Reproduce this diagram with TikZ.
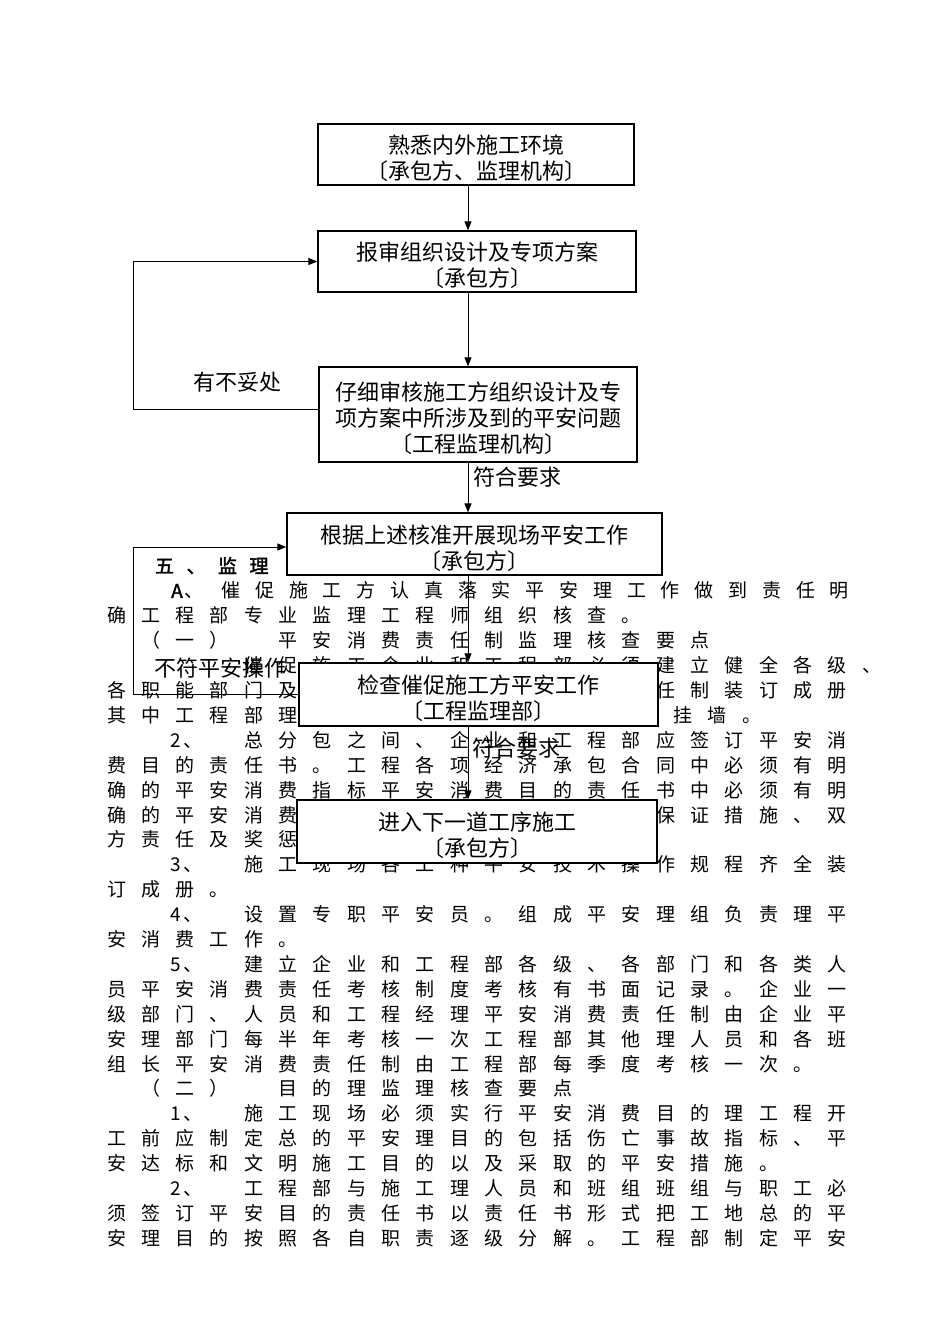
\documentclass[tikz,border=0pt]{standalone}
\usepackage{fontspec}
\setmainfont{Noto Sans CJK SC}[AutoFakeBold=2]
\usetikzlibrary{positioning}
\usetikzlibrary{arrows.meta}

\tikzset{
	stepbox/.style={draw,line width=1.3pt,fill=white,align=center,inner sep=0pt,font=\fontsize{22}{26}\selectfont},
	body/.style={inner sep=0pt,text height=16.5pt,text depth=2.5pt,font=\fontsize{19}{19}\selectfont},
	lbl/.style={inner sep=0pt,font=\fontsize{22}{22}\selectfont},
	link/.style={line width=1pt,->,>={Triangle[length=9pt,width=7pt]}}
}

% one run of characters on the text grid: [pitch]{name}{row}{column}{chars}
\newcommand\txtrow[5][34.33]{%
	\foreach \ch [count=\i from 0] in {#5}
		\node[body] (#2-\i) at ({116.5+#4*34.33+\i*#1},{566+#3*24.9}) {\ch};}
% strut that pushes box text down a little
\newcommand\boxtop{\rule{0pt}{27pt}}

\begin{document}
\begin{tikzpicture}[x=1pt,y=-1pt]
	\useasboundingbox (0,0) rectangle (950,1344);
	\coordinate (spine) at (468,0);
	\coordinate (loopL) at (133,0);

	%TEXT
	\txtrow[31.5]{head}{0}{1.4}{\textbf{五},\textbf{、},\textbf{监},\textbf{理}}
	\node[body,anchor=west] (a-mark) at (171,{566+24.9}) {\textbf{A}\kern2pt、};
	\txtrow[33.8]{r1}{1}{3.335}{催,促,施,工,方,认,真,落,实,平,安,理,工,作,做,到,责,任,明}
	\txtrow{r2}{2}{0}{确,工,程,部,专,业,监,理,工,程,师,组,织,核,查,。}
	\txtrow{r3a}{3}{1}{（,一,）}
	\txtrow{r3b}{3}{5}{平,安,消,费,责,任,制,监,理,核,查,要,点}
	\txtrow{r4}{4}{4}{催,促,施,工,企,业,和,工,程,部,必,须,建,立,健,全,各,级,、}
	\txtrow{r5a}{5}{0}{各,职,能,部,门,及}
	\txtrow{r5b}{5}{16}{任,制,装,订,成,册}
	\txtrow{r6a}{6}{0}{其,中,工,程,部,理}
	\txtrow{r6b}{6}{16.5}{挂,墙,。}
	\node[body,anchor=west] (n7) at (170,{566+7*24.9}) {2\kern3pt、};
	\txtrow{r7}{7}{4}{总,分,包,之,间,、,企,业,和,工,程,部,应,签,订,平,安,消}
	\txtrow{r8}{8}{0}{费,目,的,责,任,书,。,工,程,各,项,经,济,承,包,合,同,中,必,须,有,明}
	\txtrow{r9}{9}{0}{确,的,平,安,消,费,指,标,平,安,消,费,目,的,责,任,书,中,必,须,有,明}
	\txtrow{r10a}{10}{0}{确,的,平,安,消,费}
	\txtrow{r10b}{10}{16}{保,证,措,施,、,双}
	\txtrow{r11}{11}{0}{方,责,任,及,奖,惩}
	\node[body,anchor=west] (n12) at (170,{566+12*24.9}) {3\kern3pt、};
	\txtrow{r12}{12}{4}{施,工,现,场,各,工,种,平,安,技,术,操,作,规,程,齐,全,装}
	\txtrow{r13}{13}{0}{订,成,册,。}
	\node[body,anchor=west] (n14) at (170,{566+14*24.9}) {4\kern3pt、};
	\txtrow{r14}{14}{4}{设,置,专,职,平,安,员,。,组,成,平,安,理,组,负,责,理,平}
	\txtrow{r15}{15}{0}{安,消,费,工,作,。}
	\node[body,anchor=west] (n16) at (170,{566+16*24.9}) {5\kern3pt、};
	\txtrow{r16}{16}{4}{建,立,企,业,和,工,程,部,各,级,、,各,部,门,和,各,类,人}
	\txtrow{r17}{17}{0}{员,平,安,消,费,责,任,考,核,制,度,考,核,有,书,面,记,录,。,企,业,一}
	\txtrow{r18}{18}{0}{级,部,门,、,人,员,和,工,程,经,理,平,安,消,费,责,任,制,由,企,业,平}
	\txtrow{r19}{19}{0}{安,理,部,门,每,半,年,考,核,一,次,工,程,部,其,他,理,人,员,和,各,班}
	\txtrow{r20}{20}{0}{组,长,平,安,消,费,责,任,制,由,工,程,部,每,季,度,考,核,一,次,。}
	\txtrow{r21a}{21}{1}{（,二,）}
	\txtrow{r21b}{21}{5}{目,的,理,监,理,核,查,要,点}
	\node[body,anchor=west] (n22) at (170,{566+22*24.9}) {1\kern3pt、};
	\txtrow{r22}{22}{4}{施,工,现,场,必,须,实,行,平,安,消,费,目,的,理,工,程,开}
	\txtrow{r23}{23}{0}{工,前,应,制,定,总,的,平,安,理,目,的,包,括,伤,亡,事,故,指,标,、,平}
	\txtrow{r24}{24}{0}{安,达,标,和,文,明,施,工,目,的,以,及,采,取,的,平,安,措,施,。}
	\node[body,anchor=west] (n25) at (170,{566+25*24.9}) {2\kern3pt、};
	\txtrow{r25}{25}{4}{工,程,部,与,施,工,理,人,员,和,班,组,班,组,与,职,工,必}
	\txtrow{r26}{26}{0}{须,签,订,平,安,目,的,责,任,书,以,责,任,书,形,式,把,工,地,总,的,平}
	\txtrow{r27}{27}{0}{安,理,目,的,按,照,各,自,职,责,逐,级,分,解,。,工,程,部,制,定,平,安}

	%BOXES
	\node[stepbox,minimum width=316pt,minimum height=61pt] (env) at (476,154.5) {\boxtop 熟悉内外施工环境\\〔承包方、监理机构〕};
	\node[stepbox,minimum width=318pt,minimum height=61pt] (report) at (477,261.5) {\boxtop 报审组织设计及专项方案\\〔承包方〕};
	\node[stepbox,minimum width=318pt,minimum height=95pt] (review) at (478,414.5) {\boxtop 仔细审核施工方组织设计及专\\项方案中所涉及到的平安问题\\〔工程监理机构〕};
	\node[stepbox,minimum width=375pt,minimum height=62pt] (start) at (474.5,544) {\boxtop 根据上述核准开展现场平安工作\\〔承包方〕};
	\node[stepbox,minimum width=359pt,minimum height=63pt] (check) at (478.5,694.5) {\boxtop 检查催促施工方平安工作\\〔工程监理部〕};
	\node[stepbox,minimum width=360pt,minimum height=63pt] (next) at (477,831.5) {\boxtop 进入下一道工序施工\\〔承包方〕};

	%ARROWS
	\draw[link] (env.south -| spine) -- (report.north -| spine);
	\draw[link] (report.south -| spine) -- (review.north -| spine);
	\draw[link] (review.south -| spine) -- (start.north -| spine);
	\draw[link] (start.south -| spine) -- (check.north -| spine);
	\draw[link] (check.south -| spine) -- (next.north -| spine);
	%loops back
	\coordinate (revout) at ([yshift=5.5pt]review.west);
	\coordinate (startin) at ([yshift=-3pt]start.west);
	\draw[link] (revout) -- (loopL |- revout) |- (report.west);
	\draw[link] (check.west) -- (loopL |- check.west) |- (startin);

	%LABELS
	\node[lbl] (bad) at (237,382) {有不妥处};
	\node[lbl] (ok1) at (517,477) {符合要求};
	\node[lbl] (unsafe) at (220,668) {不符平安操作};
	\node[lbl] (ok2) at (516,748) {符合要求};
\end{tikzpicture}
\end{document}
